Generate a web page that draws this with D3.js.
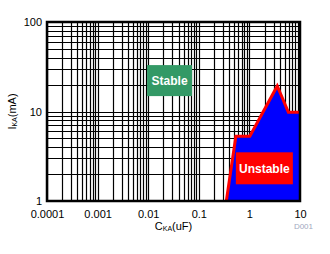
<!DOCTYPE html>
<html>
<head>
<meta charset="utf-8">
<script src="https://cdn.jsdelivr.net/npm/d3@7"></script>
<style>
body { margin: 0; background: #fff; }
text { font-family: "Liberation Sans", Arial, sans-serif; }
</style>
</head>
<body>
<div id="chart-area"></div>
<script>
var width = 330;
var height = 254;
var margin = { left: 47, right: 30, top: 22, bottom: 53 };
var w = width - margin.left - margin.right;
var h = height - margin.top - margin.bottom;

// boundary of the unstable region (C in uF, I in mA)
var boundaryC = [0.35, 0.54, 1.02, 3.55, 5.9, 10];
var boundaryI = [1, 5.3, 5.3, 19.3, 9.8, 9.8];
var xTicks = [0.0001, 0.001, 0.01, 0.1, 1, 10];
var yTicks = [1, 10, 100];

var svg = d3.select("#chart-area")
    .append("svg")
    .attr("width", width)
    .attr("height", height);

var g = svg.append("g")
    .attr("transform", "translate(" + margin.left + "," + margin.top + ")");

var x = d3.scaleLog().domain([0.0001, 10]).range([0, w]);
var y = d3.scaleLog().domain([1, 100]).range([h, 0]);

// grid lines at every minor tick
var xGrid = [];
for (var e = -4; e < 1; e++) {
    for (var m = 1; m < 10; m++) xGrid.push(m * Math.pow(10, e));
}
var yGrid = [];
for (var e2 = 0; e2 < 2; e2++) {
    for (var m2 = 1; m2 < 10; m2++) yGrid.push(m2 * Math.pow(10, e2));
}

g.selectAll(".vgrid")
    .data(xGrid)
    .enter().append("line")
    .attr("x1", function(d) { return Math.round(x(d)) + 0.5; })
    .attr("x2", function(d) { return Math.round(x(d)) + 0.5; })
    .attr("y1", 0)
    .attr("y2", h)
    .attr("stroke", "#000")
    .attr("stroke-width", 1.2);

g.selectAll(".hgrid")
    .data(yGrid)
    .enter().append("line")
    .attr("y1", function(d) { return Math.round(y(d)) + 0.5; })
    .attr("y2", function(d) { return Math.round(y(d)) + 0.5; })
    .attr("x1", 0)
    .attr("x2", w)
    .attr("stroke", "#000")
    .attr("stroke-width", 1.2);

// unstable area
var pts = boundaryC.map(function(c, i) { return [c, boundaryI[i]]; });
var areaPts = pts.concat([[10, 1]]);

g.append("path")
    .attr("d", d3.line()
        .x(function(d) { return x(d[0]); })
        .y(function(d) { return y(d[1]); })(areaPts) + "Z")
    .attr("fill", "#0000ff");

g.append("path")
    .attr("d", d3.line()
        .x(function(d) { return x(d[0]); })
        .y(function(d) { return y(d[1]); })(pts))
    .attr("fill", "none")
    .attr("stroke", "#ff0000")
    .attr("stroke-width", 3)
    .attr("stroke-linejoin", "miter");

// labels
g.append("rect")
    .attr("x", x(0.0095)).attr("y", y(33))
    .attr("width", 45).attr("height", 31)
    .attr("fill", "#339966");
g.append("text")
    .attr("x", x(0.0095) + 22.5).attr("y", y(33) + 20)
    .attr("text-anchor", "middle")
    .attr("fill", "#fff")
    .attr("font-weight", "bold")
    .attr("font-size", "12px")
    .text("Stable");

g.append("rect")
    .attr("x", x(0.54)).attr("y", y(3.5))
    .attr("width", 57).attr("height", 32)
    .attr("fill", "#ff0000");
g.append("text")
    .attr("x", x(0.54) + 28.5).attr("y", y(3.5) + 20.5)
    .attr("text-anchor", "middle")
    .attr("fill", "#fff")
    .attr("font-weight", "bold")
    .attr("font-size", "12px")
    .text("Unstable");

// frame
g.append("rect")
    .attr("x", 0).attr("y", 0)
    .attr("width", w).attr("height", h)
    .attr("fill", "none")
    .attr("stroke", "#000")
    .attr("stroke-width", 2.5);

// axes
var xAxisCall = d3.axisBottom(x)
    .tickValues(xTicks)
    .tickSize(0)
    .tickPadding(9)
    .tickFormat(function(d) { return d3.format("~g")(d); });
var xAxisGroup = g.append("g")
    .attr("transform", "translate(0," + h + ")")
    .call(xAxisCall);

var yAxisCall = d3.axisLeft(y)
    .tickValues(yTicks)
    .tickSize(0)
    .tickPadding(5)
    .tickFormat(d3.format("d"));
var yAxisGroup = g.append("g").call(yAxisCall);

[xAxisGroup, yAxisGroup].forEach(function(a) {
    a.select(".domain").remove();
    a.selectAll("text")
        .attr("font-size", "11px")
        .attr("font-family", "Liberation Sans, Arial, sans-serif")
        .attr("fill", "#000");
});

// axis titles
var xLabel = svg.append("text")
    .attr("x", margin.left + w / 2)
    .attr("y", 230)
    .attr("text-anchor", "middle")
    .attr("font-size", "11px");
xLabel.append("tspan").text("C");
xLabel.append("tspan").attr("font-size", "7px").attr("dy", 1).text("KA");
xLabel.append("tspan").attr("dy", -1).text("(uF)");

var yLabel = svg.append("text")
    .attr("transform", "translate(16," + (margin.top + h / 2) + ") rotate(-90)")
    .attr("text-anchor", "middle")
    .attr("font-size", "11px");
yLabel.append("tspan").text("I");
yLabel.append("tspan").attr("font-size", "7px").attr("dy", 1).text("KA");
yLabel.append("tspan").attr("dy", -1).text("(mA)");

svg.append("text")
    .attr("x", 313)
    .attr("y", 229)
    .attr("text-anchor", "end")
    .attr("font-size", "8px")
    .attr("fill", "#a0a8c0")
    .text("D001");
</script>
</body>
</html>
